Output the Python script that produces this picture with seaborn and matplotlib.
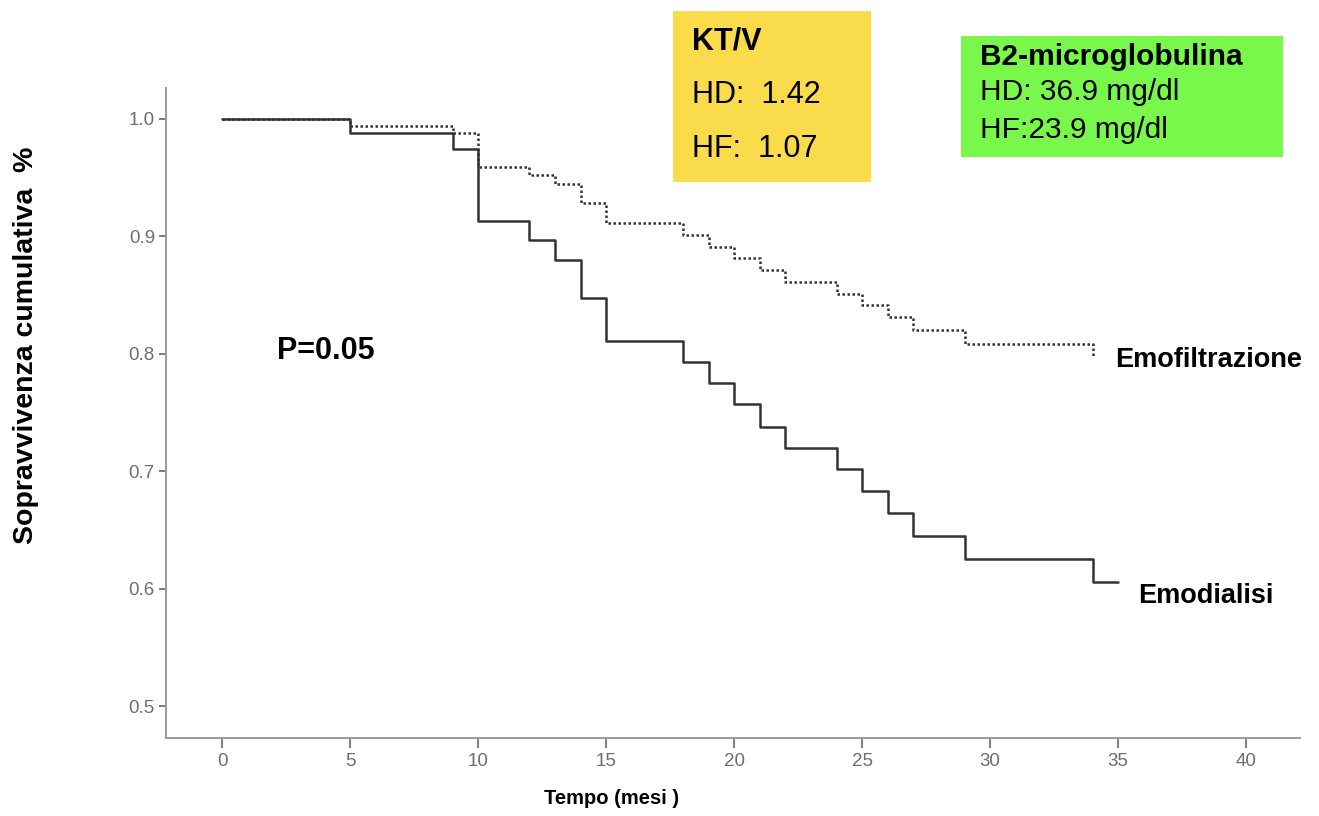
import matplotlib
matplotlib.use("Agg")
import matplotlib.pyplot as plt
import matplotlib.patches as mpatches
import pandas as pd
import seaborn as sns

# Kaplan-Meier steps
hd_time = [0, 5, 9, 10, 12, 13, 14, 15, 18, 19, 20, 21, 22, 24, 25, 26, 27, 29, 34, 35]
hd_surv = [1.0, 0.988, 0.974, 0.913, 0.897, 0.880, 0.847, 0.811, 0.793, 0.775,
           0.757, 0.738, 0.720, 0.702, 0.683, 0.664, 0.645, 0.625, 0.606, 0.606]

hf_time = [0, 5, 9, 10, 12, 13, 14, 15, 18, 19, 20, 21, 22, 24, 25, 26, 27, 29, 34]
hf_surv = [1.0, 0.994, 0.988, 0.959, 0.952, 0.944, 0.928, 0.911, 0.901, 0.891,
           0.881, 0.871, 0.861, 0.851, 0.841, 0.831, 0.820, 0.808, 0.797]

x_ticks = [0, 5, 10, 15, 20, 25, 30, 35, 40]
y_ticks = [0.5, 0.6, 0.7, 0.8, 0.9, 1.0]

ktv_lines = ["KT/V", "HD:  1.42", "HF:  1.07"]
b2m_lines = ["B2-microglobulina", "HD: 36.9 mg/dl", "HF:23.9 mg/dl"]

hd = pd.DataFrame({"tempo": hd_time, "sopr": hd_surv})
hf = pd.DataFrame({"tempo": hf_time, "sopr": hf_surv})

sns.set_style("white")
plt.rcParams["font.family"] = ["Liberation Sans", "DejaVu Sans"]
plt.rcParams["text.color"] = "black"
plt.rcParams["axes.labelcolor"] = "black"

fig = plt.figure(figsize=(13.19, 8.16), dpi=100)
ax = fig.add_axes([166 / 1319, 1 - 738 / 816, 1134 / 1319, 650 / 816])

sns.lineplot(data=hf, x="tempo", y="sopr", ax=ax, estimator=None, sort=False,
             drawstyle="steps-post", color="#333333", linewidth=1.8,
             linestyle=(0, (1, 1)))
sns.lineplot(data=hd, x="tempo", y="sopr", ax=ax, estimator=None, sort=False,
             drawstyle="steps-post", color="#333333", linewidth=1.8)

ax.set_xlim(-2.19, 42.1)
ax.set_ylim(0.473, 1.026)
ax.set_xticks(x_ticks)
ax.set_yticks(y_ticks)
ax.set_yticklabels([f"{v:.1f}" for v in y_ticks])

for side in ["top", "right"]:
    ax.spines[side].set_visible(False)
for side in ["left", "bottom"]:
    ax.spines[side].set_color("#9a9a9a")
    ax.spines[side].set_linewidth(1.4)

ax.tick_params(axis="x", direction="out", length=7, width=1.2, color="#666666",
               labelcolor="#6e6e6e", labelsize=13.5, pad=4, bottom=True)
ax.tick_params(axis="y", direction="out", length=5, width=1.2, color="#666666",
               labelcolor="#6e6e6e", labelsize=13.5, pad=3, left=True)

ax.set_xlabel("Tempo (mesi )", fontsize=14.5, fontweight="bold")
ax.xaxis.set_label_coords((611.5 - 166) / 1134, (738 - 789) / 650)
ax.set_ylabel("Sopravvivenza cumulativa  %", fontsize=20.5, fontweight="bold")
ax.yaxis.set_label_coords((39 - 166) / 1134, (738 - 345) / 650)

# annotations inside the plot
ax.text(2.13, 0.7953, "P=0.05", fontsize=22, fontweight="bold", ha="left", va="baseline")
ax.text(34.88, 0.789, "Emofiltrazione", fontsize=19.5, fontweight="bold", ha="left", va="baseline")
ax.text(35.79, 0.5875, "Emodialisi", fontsize=19.5, fontweight="bold", ha="left", va="baseline")

# boxes above the plot
fig.patches.append(mpatches.Rectangle((673 / 1319, 1 - 182 / 816), 198 / 1319, 171 / 816,
                                      transform=fig.transFigure, facecolor="#f9db4c",
                                      edgecolor="none", zorder=0))
fig.patches.append(mpatches.Rectangle((961 / 1319, 1 - 157 / 816), 322 / 1319, 121 / 816,
                                      transform=fig.transFigure, facecolor="#77f84b",
                                      edgecolor="none", zorder=0))

ktv_base = [50, 103, 157]
for i, (txt, b) in enumerate(zip(ktv_lines, ktv_base)):
    fig.text(692 / 1319, 1 - b / 816, txt, fontsize=22,
             fontweight="bold" if i == 0 else "normal", ha="left", va="baseline")

b2m_base = [65, 100, 138]
for i, (txt, b) in enumerate(zip(b2m_lines, b2m_base)):
    fig.text(980 / 1319, 1 - b / 816, txt, fontsize=21.5,
             fontweight="bold" if i == 0 else "normal", ha="left", va="baseline")

fig.savefig("out.png", dpi=100, facecolor="white")
